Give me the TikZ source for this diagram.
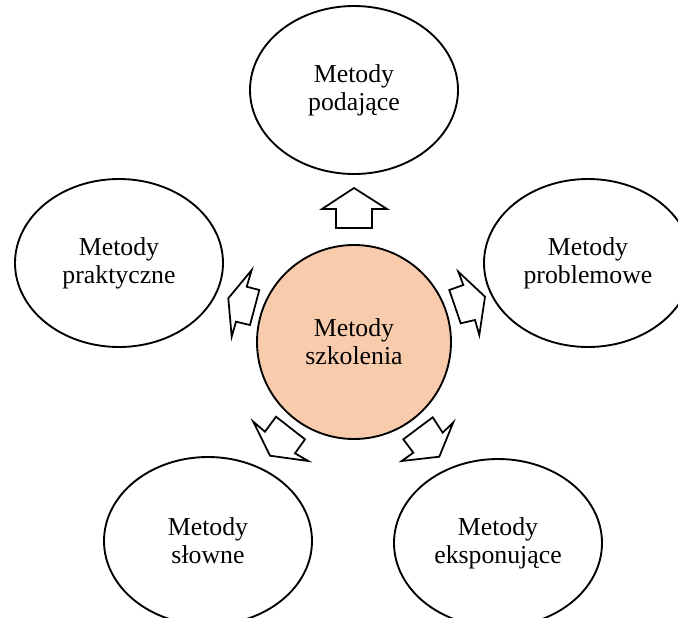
\documentclass[tikz,border=0pt]{standalone}
\usepackage{fontspec}
\setmainfont{Liberation Serif}
\usetikzlibrary{shapes.geometric}
\definecolor{brzoskwinia}{HTML}{F8CBAD}
\tikzset{
  metoda/.style={ellipse, draw, line width=1.6pt, minimum width=62.4mm, minimum height=50.4mm,
    inner sep=0pt, align=center, font=\fontsize{22}{24}\selectfont},
  srodek/.style={circle, draw, line width=1.6pt, fill=brzoskwinia, minimum size=58.2mm,
    inner sep=0pt, align=center, font=\fontsize{22}{24}\selectfont},
  blok/.style={draw, line width=1.5pt, fill=white, line join=miter}
}
\begin{document}
\begin{tikzpicture}[x=0.3mm, y=-0.3mm]
                \useasboundingbox (0,0) rectangle (678,617);
                \clip (0,0) rectangle (678,617);

                % Draw the centre circle
                \node[srodek] (szkolenia) at (354,342) {Metody\\szkolenia};

                % Draw the five ellipses around it
                \node[metoda] (podajace) at (354,90) {Metody\\podające};
                \node[metoda] (praktyczne) at (119,263) {Metody\\praktyczne};
                \node[metoda] (problemowe) at (588,263) {Metody\\problemowe};
                \node[metoda] (slowne) at (208,541) {Metody\\słowne};
                \node[metoda] (eksponujace) at (498,543) {Metody\\eksponujące};

                % Draw the block arrows
                \draw[blok] (354,188) -- (387,209) -- (372,209) -- (372,228) -- (336,228) -- (336,209) -- (322,209) -- cycle;
                \draw[blok] (228.3,298.3) -- (251.7,270) -- (246.7,286.7) -- (259.3,290) -- (250,325) -- (236,321.7) -- (231.7,336.7) -- cycle;
                \draw[blok] (485,296.7) -- (458.3,271.7) -- (463.3,285) -- (449.3,290) -- (460.7,323.3) -- (475,320) -- (479.3,335) -- cycle;
                \draw[blok] (270,455.7) -- (253.3,421.7) -- (265,431.7) -- (276,416.7) -- (305,439.3) -- (295,453.3) -- (308.3,461) -- cycle;
                \draw[blok] (439.3,456.7) -- (453.3,422.3) -- (442.7,432.7) -- (432.7,417.3) -- (403.3,439.3) -- (413.3,452.7) -- (401.7,461) -- cycle;

            \end{tikzpicture}
\end{document}
